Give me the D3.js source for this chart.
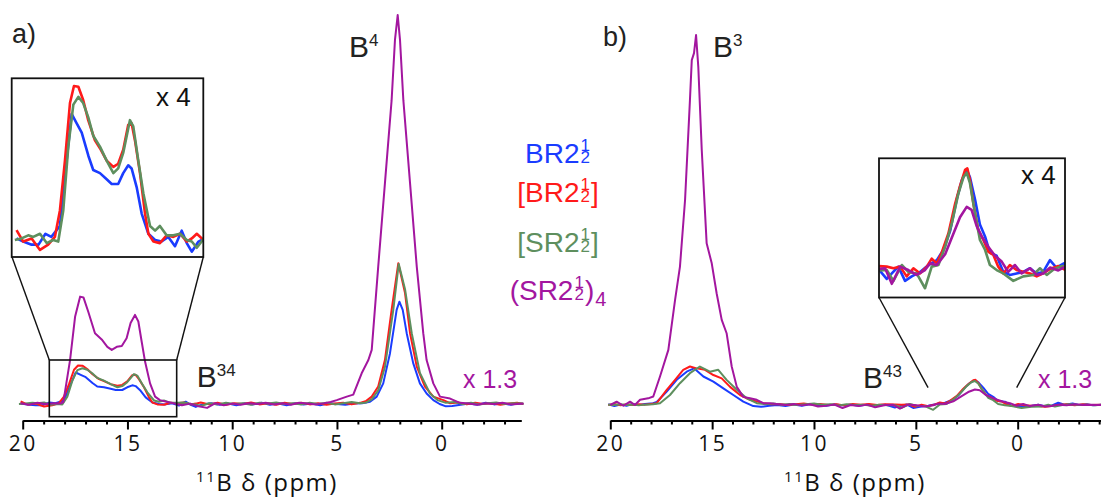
<!DOCTYPE html>
<html><head><meta charset="utf-8">
<script src="https://cdn.jsdelivr.net/npm/d3@7"></script>
<style>body{margin:0;background:#fff} svg{display:block}</style>
</head><body>
<svg id="c" width="1101" height="500"></svg>
<script>
// ---------- DATA ----------
const seriesNames = ["BR2", "[BR2]", "[SR2]", "(SR2)4"];
const colors = ["#1a3cff", "#ff1a1a", "#5e8f5e", "#a3169f"];
const tickMajor = [20, 15, 10, 5, 0];
const tickMinorA = [19,18,17,16,14,13,12,11,9,8,7,6,4,3,2,1,-1,-2,-3];
const tickMinorB = [19,18,17,16,14,13,12,11,9,8,7,6,4,3,2,1,-1,-2,-3,-4];
const panelLabels = ["a)", "b)"];
const scaleLabel = "x 1.3";
const insetLabel = "x 4";

// panel a : [ppm, intensity]
const aBlue = [[20.1,0.1],[19.78,-0.1],[19.38,-0.3],[19.05,-0.3],[18.72,0.4],[18.44,0.2],[18.03,0.9],[17.79,4.1],[17.47,8.1],[17.23,7.5],[16.99,6.9],[16.67,5.4],[16.44,4.5],[16.12,4.3],[15.80,3.9],[15.56,3.6],[15.25,3.6],[15.01,4.3],[14.77,4.8],[14.61,4.6],[14.37,3.4],[14.13,1.7],[13.81,0.4],[13.49,0],[13.18,-0.1],[12.86,0.2],[12.54,-0.4],[12.22,0.6],[11.98,-0.2],[11.74,-0.75],[11.42,-0.1],[11.0,0.2],[10.6,-0.2],[10.2,0.1],[9.8,-0.3],[9.4,0.2],[9.0,-0.1],[8.6,0.3],[8.2,-0.2],[7.8,0.1],[7.4,-0.3],[7.0,0.2],[6.6,-0.1],[6.2,0.1],[5.8,-0.3],[5.4,0.2],[5.0,0.0],[4.6,-0.2],[4.2,0.1],[3.8,0.2],[3.42,0.6],[3.10,1.9],[2.79,5.3],[2.47,13.0],[2.15,24.2],[2.02,26.3],[1.86,24.2],[1.67,18.2],[1.36,10.5],[1.04,5.3],[0.72,2.7],[0.40,1.0],[0.1,0.0],[-0.2,-0.6],[-0.5,-0.5],[-0.9,-0.2],[-1.3,0.1],[-1.7,-0.2],[-2.1,0.3],[-2.5,-0.1],[-2.9,0.2],[-3.3,-0.2],[-3.6,0.1],[-3.9,0.0]];
const aRed = [[20.1,0.64],[19.78,-0.1],[19.38,0.1],[18.98,-0.64],[18.59,-0.3],[18.27,0.2],[18.03,1.9],[17.79,5.1],[17.55,8.8],[17.36,9.9],[17.15,9.85],[16.92,9.0],[16.68,7.7],[16.36,6.4],[16.12,5.9],[15.80,5.1],[15.48,4.7],[15.25,4.9],[15.01,5.8],[14.77,7.4],[14.61,7.5],[14.45,6.4],[14.21,4.3],[13.97,1.7],[13.81,0.4],[13.57,-0.1],[13.26,-0.2],[12.94,0.3],[12.62,0.2],[12.30,0.4],[11.98,-0.1],[11.74,0.1],[11.50,0.4],[11.1,-0.1],[10.7,0.3],[10.3,-0.2],[9.9,0.2],[9.5,0.0],[9.1,0.4],[8.7,-0.1],[8.3,0.2],[7.9,-0.2],[7.5,0.3],[7.1,0.0],[6.7,0.3],[6.3,-0.1],[5.9,0.2],[5.5,-0.2],[5.1,0.1],[4.7,0.3],[4.3,-0.1],[3.9,0.3],[3.6,0.8],[3.34,1.9],[3.03,4.5],[2.71,11.3],[2.39,24.2],[2.07,36.2],[1.75,28.5],[1.51,18.2],[1.19,9.6],[0.80,4.5],[0.40,1.9],[-0.08,1.0],[-0.4,0.2],[-0.8,0.4],[-1.2,-0.1],[-1.6,0.3],[-2.0,0.0],[-2.4,0.2],[-2.8,-0.2],[-3.2,0.1],[-3.6,0.3],[-3.9,0.0]];
const aGreen = [[20.18,0],[19.86,0.1],[19.54,0.3],[19.30,0.2],[18.98,0.4],[18.66,-0.2],[18.35,0],[18.11,-0.1],[17.87,1.9],[17.63,6.0],[17.39,8.7],[17.15,9.2],[16.92,8.8],[16.68,7.9],[16.44,6.7],[16.12,6.0],[15.80,5.1],[15.48,4.3],[15.25,4.6],[15.01,5.6],[14.69,7.7],[14.53,7.3],[14.29,5.1],[14.05,3.0],[13.73,0.9],[13.49,0.6],[13.26,0.9],[12.94,0.3],[12.62,0.3],[12.30,0.4],[11.98,0],[11.74,-0.1],[11.50,-0.5],[11.1,0.2],[10.7,-0.1],[10.3,0.3],[9.9,0.0],[9.5,0.2],[9.1,-0.2],[8.7,0.3],[8.3,0.1],[7.9,0.4],[7.5,0.0],[7.1,0.2],[6.7,-0.1],[6.3,0.3],[5.9,0.0],[5.5,0.3],[5.1,-0.1],[4.7,0.2],[4.3,0.5],[3.9,0.2],[3.6,0.4],[3.34,1.2],[3.03,3.5],[2.71,9.5],[2.31,24.2],[2.05,36.0],[1.75,29.5],[1.43,18.2],[1.04,8.0],[0.56,2.7],[0.2,1.0],[-0.2,0.3],[-0.6,0.5],[-1.0,0.0],[-1.4,0.3],[-1.8,-0.1],[-2.2,0.2],[-2.6,0.4],[-3.0,0.0],[-3.4,0.2],[-3.9,0.1]];
const aPurple = [[20.1,0.2],[19.7,-0.2],[19.3,0.3],[18.9,0.0],[18.5,0.2],[18.2,0.1],[18.06,0.5],[17.74,11.3],[17.50,22.4],[17.26,27.6],[17.10,27.4],[16.87,23.7],[16.55,18.2],[16.23,16.6],[15.96,14.7],[15.75,13.9],[15.51,14.7],[15.27,14.9],[15.04,16.9],[14.85,20.8],[14.64,22.9],[14.48,21.2],[14.32,16.0],[14.16,10.9],[13.92,5.3],[13.68,1.9],[13.45,1.0],[13.14,0.6],[12.8,0.2],[12.4,-0.3],[12.0,0.1],[11.6,-0.6],[11.2,-1.0],[10.8,0.2],[10.4,-0.3],[10.0,0.1],[9.6,-0.2],[9.2,0.2],[8.8,0.0],[8.4,0.3],[8.0,-0.1],[7.6,0.2],[7.2,-0.2],[6.8,0.3],[6.4,0.1],[6.0,-0.1],[5.6,0.2],[5.3,0.5],[5.01,1.0],[4.53,1.9],[4.22,2.4],[3.82,7.9],[3.50,11.3],[3.34,13.9],[3.03,35.3],[2.71,56.7],[2.39,78.1],[2.23,93.6],[2.10,100],[1.99,93.6],[1.83,78.1],[1.51,56.7],[1.19,35.3],[0.88,18.2],[0.72,11.3],[0.40,5.3],[0.08,1.9],[-0.40,1.4],[-0.87,0.3],[-1.3,0.1],[-1.7,-0.2],[-2.1,0.2],[-2.5,0.0],[-2.9,0.3],[-3.3,-0.1],[-3.9,0.1]];

// panel b : [ppm, intensity]
const bBlue = [[20.1,0.2],[19.8,-0.3],[19.5,0.1],[19.2,-0.2],[18.9,0.3],[18.6,0.0],[18.3,0.3],[17.9,0.5],[17.72,0.8],[17.23,3.6],[16.74,6.8],[16.25,9.0],[15.89,9.9],[15.43,7.7],[14.94,6.3],[14.45,4.5],[13.96,2.7],[13.47,0.9],[12.98,-0.3],[12.6,-0.5],[12.2,-0.2],[11.8,0.0],[11.4,-0.3],[11.0,0.1],[10.6,-0.2],[10.2,0.2],[9.8,0.0],[9.4,-0.2],[9.0,0.2],[8.6,-0.1],[8.2,0.1],[7.8,-0.2],[7.4,0.1],[7.0,-0.1],[6.5,0.1],[6.03,-0.67],[5.78,-0.3],[5.46,0.16],[5.13,-0.8],[4.80,-0.5],[4.39,-0.2],[3.98,0.27],[3.57,0.6],[3.24,1.3],[2.91,2.6],[2.59,4.7],[2.34,6.0],[2.10,6.7],[1.94,6.2],[1.69,4.7],[1.45,3.0],[1.20,2.2],[0.96,1.1],[0.63,0.9],[0.30,-0.2],[-0.02,-0.4],[-0.35,-0.3],[-0.68,-0.2],[-1.01,0.05],[-1.34,-0.3],[-1.66,-0.2],[-1.99,0.6],[-2.3,0.1],[-2.7,0.4],[-3.0,0.0],[-3.4,0.2],[-3.7,-0.1],[-4.1,0.1]];
const bRed = [[20.1,0.0],[19.8,0.3],[19.5,-0.1],[19.2,0.2],[18.9,0.0],[18.6,0.2],[18.3,0.1],[18.0,0.3],[17.72,0.5],[17.23,4.1],[16.82,6.8],[16.42,9.5],[16.09,10.4],[15.76,9.9],[15.35,9.5],[14.94,8.1],[14.53,7.2],[14.12,4.9],[13.63,2.7],[13.14,1.4],[12.49,0.5],[12.1,0.2],[11.7,0.3],[11.3,0.0],[10.9,0.2],[10.5,0.4],[10.1,0.1],[9.7,0.3],[9.3,0.0],[8.9,0.2],[8.5,-0.1],[8.1,0.3],[7.7,0.1],[7.3,0.3],[6.9,0.0],[6.5,0.2],[6.03,0.16],[5.70,0.05],[5.37,0.16],[5.05,-0.5],[4.72,0.05],[4.39,-0.3],[4.06,0.16],[3.82,0.7],[3.57,0.38],[3.33,1.1],[3.0,2.4],[2.67,4.4],[2.43,5.6],[2.18,6.7],[2.07,6.8],[1.94,6.0],[1.77,4.4],[1.53,2.6],[1.28,1.96],[1.04,1.17],[0.79,0.95],[0.55,0.16],[0.30,-0.3],[-0.02,0.27],[-0.35,-0.07],[-0.68,-0.18],[-1.01,-0.3],[-1.34,-0.5],[-1.66,-0.3],[-2.0,0.0],[-2.4,0.2],[-2.8,-0.1],[-3.2,0.2],[-3.6,0.0],[-4.1,0.1]];
const bGreen = [[20.1,0.1],[19.8,0.0],[19.5,0.2],[19.2,0.0],[18.9,0.1],[18.6,-0.1],[18.3,0.1],[17.9,0.2],[17.56,0.5],[17.07,2.7],[16.58,5.9],[16.09,8.6],[15.60,10.4],[15.11,9.0],[14.70,9.5],[14.29,6.8],[13.79,4.1],[13.30,1.8],[12.81,0.5],[12.4,0.2],[12.0,0.4],[11.6,0.1],[11.2,0.3],[10.8,0.0],[10.4,0.2],[10.0,0.4],[9.6,0.1],[9.2,0.2],[8.8,-0.1],[8.4,0.2],[8.0,0.0],[7.6,0.1],[7.2,-0.2],[6.8,0.1],[6.4,-0.1],[6.03,-0.07],[5.70,-0.8],[5.29,0.27],[4.97,-0.2],[4.56,-0.3],[4.15,-1.3],[3.82,0.16],[3.49,0.27],[3.16,1.5],[2.83,3.1],[2.51,5.1],[2.26,6.2],[2.10,6.5],[1.94,5.8],[1.69,3.75],[1.45,1.96],[1.20,1.3],[0.96,0.27],[0.63,-0.07],[0.30,-0.3],[-0.19,-0.8],[-0.68,-0.5],[-1.17,-0.4],[-1.50,0.05],[-1.83,-0.4],[-2.2,0.0],[-2.6,0.2],[-3.0,0.0],[-3.4,0.1],[-3.8,-0.1],[-4.1,0.1]];
const bPurple = [[20.0,0],[19.69,0.9],[19.36,-0.2],[19.03,0.9],[18.79,0],[18.54,1.4],[18.14,1.8],[17.89,2.3],[17.56,7.7],[17.15,14.9],[16.82,28.4],[16.58,37.4],[16.33,55.4],[16.09,82.4],[16.00,93.2],[15.89,95.1],[15.79,100],[15.68,91.4],[15.51,68.9],[15.27,43.7],[15.02,38.3],[14.78,30.2],[14.53,23.0],[14.29,19.4],[14.04,10.4],[13.79,4.9],[13.47,2.2],[13.14,1.8],[12.81,1.4],[12.49,0.5],[12.16,0.5],[11.83,0.3],[11.4,0.0],[11.0,0.3],[10.6,-0.1],[10.2,0.2],[9.8,-0.4],[9.4,-0.2],[9.0,0.1],[8.6,-0.8],[8.2,0.0],[7.8,-0.3],[7.4,0.1],[7.0,-0.6],[6.5,0.0],[6.11,0.05],[5.78,-1.0],[5.37,0.16],[4.97,-0.07],[4.56,-0.4],[4.15,-0.07],[3.90,0.38],[3.57,0.27],[3.16,1.0],[2.75,2.4],[2.43,3.5],[2.10,4.2],[1.86,4.0],[1.61,2.9],[1.36,2.2],[1.04,1.5],[0.71,0.9],[0.38,0.5],[0.06,-0.2],[-0.27,0.27],[-0.60,-0.3],[-1.01,0.05],[-1.34,-0.4],[-1.66,-0.3],[-2.0,0.1],[-2.4,-0.1],[-2.8,0.2],[-3.2,0.0],[-3.6,0.1],[-4.1,0.0]];

// inset ranges (ppm) and zoomed region markers
const insetADomain = [20.33, 11.19];
const zoomBoxA = [18.73, 12.65];
const insetBDomain = [6.41, -2.73];
const zoomMarkB = [4.4, 0.05];

// ---------- DRAW ----------
const svg = d3.select("#c");
const FONT = "'Liberation Sans', Arial, sans-serif";
const AXFONT = "'Open Sans', 'Liberation Sans', sans-serif";

const xA = d3.scaleLinear().domain([20, -3.8]).range([22.7, 521.3]);
const yA = d3.scaleLinear().domain([0, 100]).range([404, 15]);
const xB = d3.scaleLinear().domain([20, -4.1]).range([610.3, 1101.2]);
const yB = d3.scaleLinear().domain([0, 100]).range([405, 35]);
const xIA = d3.scaleLinear().domain(insetADomain).range([11.7, 203.3]);
const yIA = d3.scaleLinear().domain([0, 10]).range([240, 84.4]);
const xIB = d3.scaleLinear().domain(insetBDomain).range([879, 1065]);
const yIB = d3.scaleLinear().domain([0, 10]).range([269, 121]);

function drawSeries(g, list, xs, ys, cols, w) {
  const line = d3.line().x(d => xs(d[0])).y(d => ys(d[1]));
  list.forEach((d, i) => g.append("path").attr("d", line(d)).attr("fill", "none")
    .attr("stroke", cols[i]).attr("stroke-width", w).attr("stroke-linejoin", "round"));
}

function drawAxis(xs, y, minor, titleX) {
  const g = svg.append("g").attr("transform", `translate(0,${y})`);
  const ax = d3.axisBottom(xs).tickValues(tickMajor).tickSize(9).tickSizeOuter(0).tickPadding(6).tickFormat(d3.format("d"));
  g.call(ax);
  g.select(".domain").attr("stroke", "#000").attr("stroke-width", 2);
  g.selectAll(".tick line").attr("stroke", "#000").attr("stroke-width", 2);
  g.selectAll(".tick text").attr("font-family", AXFONT).attr("font-size", 21)
    .attr("letter-spacing", 2.5).attr("fill", "#111").attr("dy", "0.72em");
  const gm = svg.append("g").attr("transform", `translate(0,${y})`);
  gm.call(d3.axisBottom(xs).tickValues(minor).tickSize(4).tickFormat(""));
  gm.select(".domain").remove();
  gm.selectAll(".tick line").attr("stroke", "#000").attr("stroke-width", 2);
  const t = svg.append("text").attr("x", titleX).attr("y", 491).attr("text-anchor", "middle")
    .attr("font-family", AXFONT).attr("font-size", 24).attr("letter-spacing", 1.5).attr("fill", "#111");
  t.append("tspan").attr("font-size", 15).attr("dy", -9).text("11");
  t.append("tspan").attr("dy", 9).text("B δ (ppm)");
}

function supLabel(x, y, main, sup, size, supSize, color) {
  const t = svg.append("text").attr("x", x).attr("y", y).attr("font-family", FONT)
    .attr("font-size", size).attr("fill", color);
  t.append("tspan").text(main);
  t.append("tspan").attr("font-size", supSize).attr("dy", -11).text(sup);
}

function plainText(x, y, s, size, color) {
  svg.append("text").attr("x", x).attr("y", y).attr("font-family", FONT)
    .attr("font-size", size).attr("fill", color).text(s);
}

// clip paths
const defs = svg.append("defs");
defs.append("clipPath").attr("id", "clipIA").append("rect")
  .attr("x", xIA.range()[0]).attr("y", 78.3).attr("width", xIA.range()[1] - xIA.range()[0]).attr("height", 257 - 78.3);
defs.append("clipPath").attr("id", "clipIB").append("rect")
  .attr("x", xIB.range()[0]).attr("y", 158.3).attr("width", xIB.range()[1] - xIB.range()[0]).attr("height", 297.5 - 158.3);

// ---- main panels
drawSeries(svg.append("g"), [aBlue, aRed, aGreen, aPurple], xA, yA, colors, 2);
drawSeries(svg.append("g"), [bBlue, bRed, bGreen, bPurple], xB, yB, colors, 2);

// ---- inset a
const gIA = svg.append("g").attr("clip-path", "url(#clipIA)");
drawSeries(gIA, [aBlue, aRed, aGreen], xIA, yIA, colors, 2.6);
svg.append("rect").attr("x", 11.7).attr("y", 78.3).attr("width", 203.3 - 11.7).attr("height", 257 - 78.3)
  .attr("fill", "none").attr("stroke", "#111").attr("stroke-width", 1.8);
svg.append("rect").attr("x", xA(zoomBoxA[0])).attr("y", 360).attr("width", xA(zoomBoxA[1]) - xA(zoomBoxA[0])).attr("height", 416.7 - 360)
  .attr("fill", "none").attr("stroke", "#111").attr("stroke-width", 1.6);
svg.append("line").attr("x1", 12).attr("y1", 257).attr("x2", xA(zoomBoxA[0])).attr("y2", 360).attr("stroke", "#111").attr("stroke-width", 1.4);
svg.append("line").attr("x1", 203.3).attr("y1", 257).attr("x2", xA(zoomBoxA[1])).attr("y2", 360).attr("stroke", "#111").attr("stroke-width", 1.4);

// ---- inset b
const gIB = svg.append("g").attr("clip-path", "url(#clipIB)");
drawSeries(gIB, [bBlue, bRed, bGreen, bPurple], xIB, yIB, colors, 2.6);
svg.append("rect").attr("x", 879).attr("y", 158.3).attr("width", 1065 - 879).attr("height", 297.5 - 158.3)
  .attr("fill", "none").attr("stroke", "#111").attr("stroke-width", 1.8);
svg.append("line").attr("x1", 879).attr("y1", 297.5).attr("x2", xB(zoomMarkB[0])).attr("y2", 387.7).attr("stroke", "#111").attr("stroke-width", 1.4);
svg.append("line").attr("x1", 1065).attr("y1", 297.5).attr("x2", xB(zoomMarkB[1])).attr("y2", 387.7).attr("stroke", "#111").attr("stroke-width", 1.4);

// ---- axes
drawAxis(xA, 420.5, tickMinorA, 267);
drawAxis(xB, 420.5, tickMinorB, 855);

// ---- annotations
plainText(12, 43, panelLabels[0], 27, "#222");
plainText(603, 46, panelLabels[1], 27, "#222");
supLabel(349, 56.7, "B", "4", 30, 17, "#222");
supLabel(713, 56.7, "B", "3", 30, 17, "#222");
supLabel(196.7, 386.7, "B", "34", 30, 17, "#222");
supLabel(863, 387.7, "B", "43", 30, 17, "#222");
plainText(156, 106, insetLabel, 26, "#111");
plainText(1021, 184, insetLabel, 26, "#111");
plainText(463, 388, scaleLabel, 25, colors[3]);
plainText(1038, 388, scaleLabel, 25, colors[3]);

// ---- legend (one text element per row, stacked 1/2 via absolute-x tspans)
const legendRows = [
  {pre: "BR2", post: "", sub: "", base: 163.3},
  {pre: "[BR2", post: "]", sub: "", base: 201.7},
  {pre: "[SR2", post: "]", sub: "", base: 251.7},
  {pre: "(SR2", post: ")", sub: "4", base: 300}
];
legendRows.forEach((r, i) => {
  const g = svg.append("g");
  const t = g.append("text").attr("x", 0).attr("y", r.base).attr("fill", colors[i])
    .attr("font-family", FONT).attr("font-size", 28);
  const s1 = t.append("tspan").text(r.pre);
  const w1 = s1.node().getComputedTextLength();
  t.append("tspan").attr("x", w1 + 1).attr("dy", -12).attr("font-size", 17).text("1");
  const s2 = t.append("tspan").attr("x", w1 + 1).attr("dy", 12).attr("font-size", 17).text("2");
  let x = w1 + 1 + s2.node().getComputedTextLength() + 1;
  if (r.post) {
    const s3 = t.append("tspan").attr("x", x).text(r.post);
    x += s3.node().getComputedTextLength();
  }
  if (r.sub) {
    const s4 = t.append("tspan").attr("x", x + 1).attr("dy", 6).attr("font-size", 20).text(r.sub);
    x += s4.node().getComputedTextLength() + 1;
  }
  g.attr("transform", `translate(${558 - x / 2},0)`);
});
</script>
</body></html>
